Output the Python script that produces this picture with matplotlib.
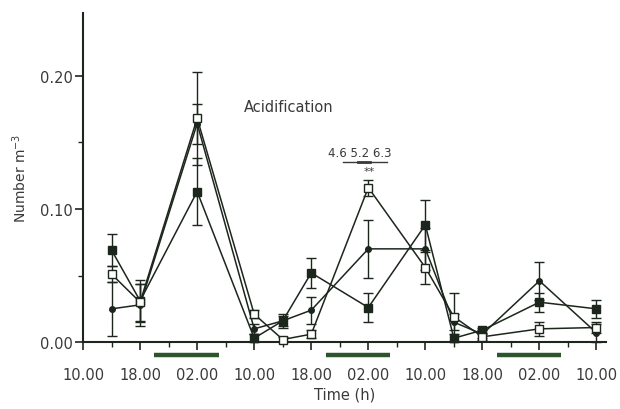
import matplotlib
matplotlib.use('Agg')
import matplotlib.pyplot as plt
from matplotlib.ticker import MultipleLocator

# temps en heures depuis 10.00 le premier jour
heures = [4, 8, 16, 24, 28, 32, 40, 48, 52, 56, 64, 72]

# carres pleins
carre_plein = [0.069, 0.031, 0.113, 0.003, 0.016, 0.052, 0.026, 0.088, 0.003, 0.009, 0.030, 0.025]
err_carre_plein = [0.012, 0.016, 0.025, 0.003, 0.005, 0.011, 0.011, 0.019, 0.003, 0.002, 0.007, 0.007]

# carres vides
carre_vide = [0.051, 0.030, 0.168, 0.021, 0.002, 0.006, 0.116, 0.056, 0.019, 0.004, 0.010, 0.011]
err_carre_vide = [0.006, 0.014, 0.035, 0.003, 0.002, 0.003, 0.006, 0.012, 0.018, 0.002, 0.005, 0.004]

# cercles pleins
cercle = [0.025, 0.028, 0.164, 0.010, 0.016, 0.024, 0.070, 0.070, 0.015, 0.006, 0.046, 0.007]
err_cercle = [0.020, 0.016, 0.015, 0.004, 0.004, 0.010, 0.022, 0.016, 0.006, 0.003, 0.014, 0.007]

# ticks de l'axe des X
pos_ticks = [0, 8, 16, 24, 32, 40, 48, 56, 64, 72]
labels_ticks = ['10.00', '18.00', '02.00', '10.00', '18.00', '02.00', '10.00', '18.00', '02.00', '10.00']

# periodes de nuit (barres noires)
nuits = [(10, 19), (34, 43), (58, 67)]

couleur = '#1c261c'
couleur_texte = '#3a3a3a'
couleur_nuit = '#2d552d'

plt.rcParams['font.family'] = ['DejaVu Sans']

fig = plt.figure(figsize=(6.2, 4.1), dpi=100)
ax = fig.add_axes([0.134, 0.163, 0.843, 0.803])

ax.errorbar(heures, cercle, yerr=err_cercle, fmt='-o', color=couleur, mfc=couleur,
            ms=4, lw=1.1, elinewidth=1.0, capsize=3.5, clip_on=False, zorder=3)
ax.errorbar(heures, carre_plein, yerr=err_carre_plein, fmt='-s', color=couleur, mfc=couleur,
            ms=6, lw=1.1, elinewidth=1.0, capsize=3.5, clip_on=False, zorder=4)
ax.errorbar(heures, carre_vide, yerr=err_carre_vide, fmt='-s', color=couleur, mfc='white',
            ms=6, lw=1.1, elinewidth=1.0, capsize=3.5, clip_on=False, zorder=5)

# barres de nuit sous l'axe
for debut, fin in nuits:
    ax.plot([debut, fin], [-0.0098, -0.0098], color=couleur_nuit, lw=3.2,
            solid_capstyle='butt', clip_on=False)

ax.set_xlim(0, 73.3)
ax.set_ylim(0, 0.247)

ax.set_xticks(pos_ticks)
ax.set_xticklabels(labels_ticks)
ax.xaxis.set_minor_locator(MultipleLocator(4))
ax.set_yticks([0.0, 0.1, 0.2])
ax.set_yticklabels(['0.00', '0.10', '0.20'])
ax.yaxis.set_minor_locator(MultipleLocator(0.05))

ax.tick_params(axis='x', which='major', length=6, width=1.2, pad=12, labelsize=10.5,
               colors=couleur, labelcolor=couleur_texte)
ax.tick_params(axis='x', which='minor', length=3.5, width=1.0, colors=couleur)
ax.tick_params(axis='y', which='major', length=6, width=1.2, pad=1.5, labelsize=10.5,
               colors=couleur, labelcolor=couleur_texte)
ax.tick_params(axis='y', which='minor', length=3.5, width=1.0, colors=couleur)

for cote in ['top', 'right']:
    ax.spines[cote].set_visible(False)
for cote in ['left', 'bottom']:
    ax.spines[cote].set_linewidth(1.5)
    ax.spines[cote].set_color(couleur)

ax.set_xlabel('Time (h)', fontsize=10.5, color=couleur_texte, labelpad=3)
ax.set_ylabel('Number m$^{-3}$', fontsize=10, color=couleur_texte, labelpad=8)

ax.text(22.6, 0.177, 'Acidification', fontsize=10.5, color=couleur_texte, va='center')
ax.text(38.8, 0.1425, '4.6 5.2 6.3', fontsize=8.5, color=couleur_texte, ha='center', va='center')
ax.plot([36.5, 42.6], [0.1355, 0.1355], color=couleur_texte, lw=1.0)
ax.plot([38.6, 40.3], [0.1348, 0.1348], color=couleur_texte, lw=2.0)
ax.text(40.1, 0.1285, '**', fontsize=8, color=couleur_texte, ha='center', va='center')

fig.savefig('out.png', dpi=100, facecolor='white')
